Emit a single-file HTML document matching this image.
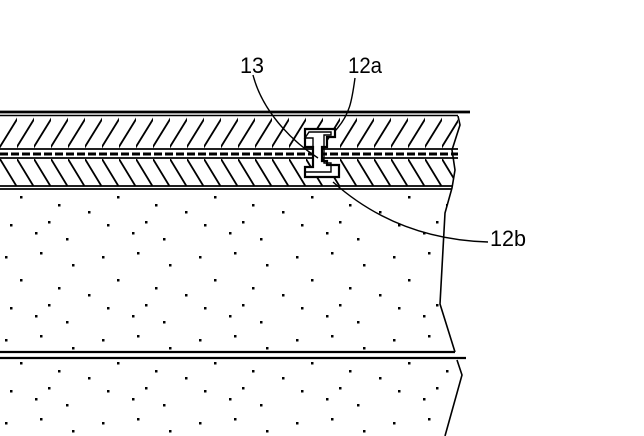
<!DOCTYPE html>
<html><head><style>html,body{margin:0;padding:0;background:#fff;width:644px;height:436px;overflow:hidden}</style></head>
<body>
<svg width="644" height="436" viewBox="0 0 644 436" xmlns="http://www.w3.org/2000/svg">
<defs>
<pattern id="h1" patternUnits="userSpaceOnUse" width="17" height="34" y="116"><line x1="-2" y1="34" x2="19" y2="0" stroke="#000" stroke-width="1.8"/></pattern>
<pattern id="h2" patternUnits="userSpaceOnUse" width="17" height="28" y="159"><line x1="0" y1="0" x2="17" y2="28" stroke="#000" stroke-width="1.8"/></pattern>
<pattern id="dots" patternUnits="userSpaceOnUse" width="97" height="83">
<rect x="5" y="7" width="2.5" height="2.5"/><rect x="40" y="3" width="2.5" height="2.5"/><rect x="72" y="15" width="2.5" height="2.5"/><rect x="20" y="30" width="2.5" height="2.5"/><rect x="58" y="38" width="2.5" height="2.5"/><rect x="88" y="45" width="2.5" height="2.5"/><rect x="10" y="58" width="2.5" height="2.5"/><rect x="35" y="66" width="2.5" height="2.5"/><rect x="66" y="72" width="2.5" height="2.5"/><rect x="48" y="55" width="2.5" height="2.5"/>
</pattern>
</defs>
<rect x="0" y="116" width="458" height="33" fill="url(#h1)"/>
<rect x="0" y="159" width="458" height="27" fill="url(#h2)"/>
<rect x="0" y="190" width="450" height="162" fill="url(#dots)"/>
<rect x="0" y="361" width="455" height="75" fill="url(#dots)"/>
<polygon points="458,114 644,114 644,436 445,436 462,375 457,360 466,358 455,352 440,304 445,213 452,188 455,170 452,150 460,125" fill="#fff"/>
<line x1="0" y1="112" x2="470" y2="112" stroke="#000" stroke-width="2.8"/>
<line x1="0" y1="115.5" x2="458" y2="115.5" stroke="#000" stroke-width="1.4"/>
<line x1="0" y1="149" x2="458" y2="149" stroke="#000" stroke-width="1.8"/>
<line x1="0" y1="154" x2="458" y2="154" stroke="#000" stroke-width="3" stroke-dasharray="8 3"/>
<line x1="0" y1="158" x2="458" y2="158" stroke="#000" stroke-width="1.8"/>
<line x1="0" y1="186" x2="452" y2="186" stroke="#000" stroke-width="1.8"/>
<line x1="0" y1="189" x2="452" y2="189" stroke="#000" stroke-width="1.8"/>
<line x1="0" y1="352" x2="455" y2="352" stroke="#000" stroke-width="2.2"/>
<line x1="0" y1="358" x2="466" y2="358" stroke="#000" stroke-width="2.2"/>
<polyline points="458,116 460,125 452,150 455,170 452,188 445,213 440,304 455,352" fill="none" stroke="#000" stroke-width="1.6"/>
<polyline points="457,360 462,375 445,436" fill="none" stroke="#000" stroke-width="1.6"/>
<path d="M305,129 h30 v8 h-8 v10 h-5 v14 h5 v4 h12 v12 h-34 v-10 h8 v-20 h-8 z" fill="#fff" stroke="#000" stroke-width="2.2"/>
<path d="M309,132 h22 v3 h-7 v28 h7 v9 h-26 v-5 h8 v-29 h-8 z" fill="none" stroke="#000" stroke-width="1.4"/>
<path d="M253,75 C262,110 290,140 318,158" fill="none" stroke="#000" stroke-width="1.4"/>
<path d="M355,78 C352,100 350,115 335,131" fill="none" stroke="#000" stroke-width="1.4"/>
<path d="M333,182 C370,215 420,240 488,242" fill="none" stroke="#000" stroke-width="1.4"/>
<g font-family="Liberation Sans, sans-serif" font-size="22" fill="#000">
<text x="240" y="73" textLength="24" lengthAdjust="spacingAndGlyphs">13</text>
<text x="348" y="73" textLength="34" lengthAdjust="spacingAndGlyphs">12a</text>
<text x="490" y="246" textLength="36" lengthAdjust="spacingAndGlyphs">12b</text>
</g>
</svg>
</body></html>
